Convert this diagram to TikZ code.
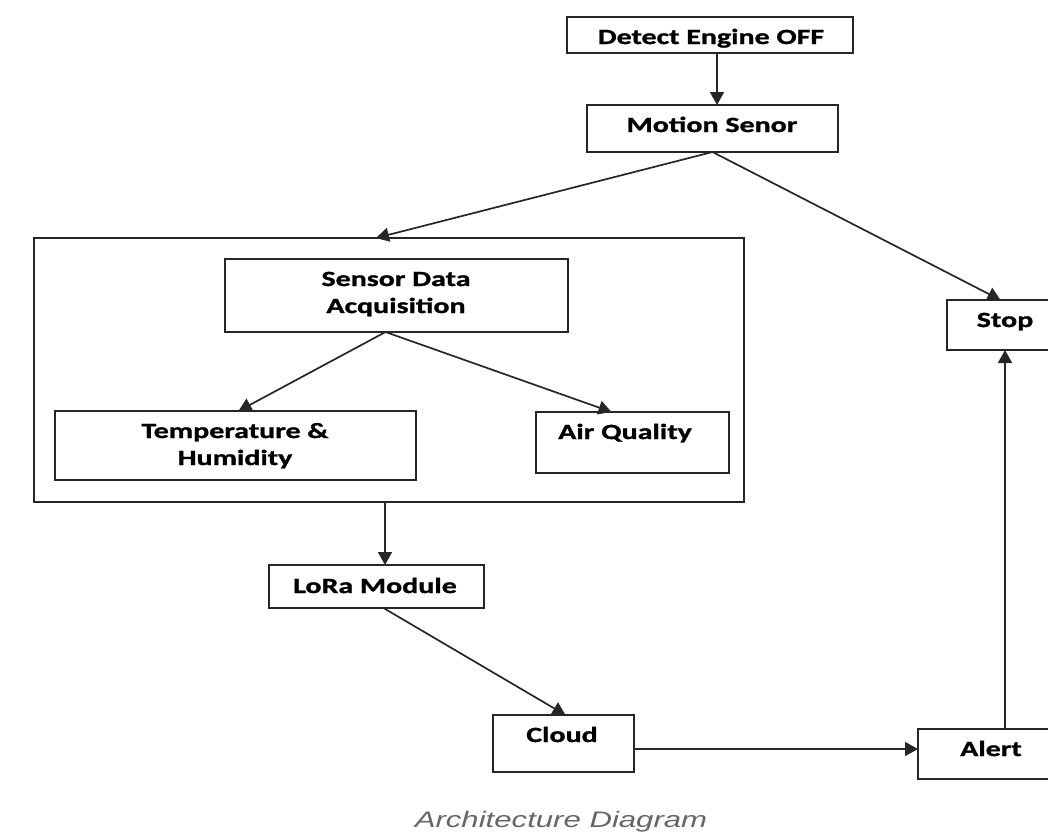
\documentclass[tikz,border=0pt]{standalone}
\usepackage{fontspec}
\setmainfont{Carlito}[FakeStretch=1.38,BoldFeatures={FakeBold=1.3}]
\newfontfamily\capfont{Liberation Sans}[FakeStretch=1.39]
\usetikzlibrary{arrows.meta,calc}
\definecolor{edge}{HTML}{262626}
\definecolor{capgray}{HTML}{666666}
\tikzset{
  boxstyle/.style={draw=edge, line width=2pt, inner sep=0pt, outer sep=0pt, rectangle},
  lbl/.style={anchor=base, inner sep=0pt, font=\fontsize{21.7}{27}\selectfont\bfseries, align=center},
  conn/.style={draw=edge, line width=1.7pt, -{Triangle[length=13pt,width=14pt]}},
}
\newcommand{\mybox}[5]{%
  \node[boxstyle, minimum width={#4-#2}, minimum height={#5-#3}] (#1) at ({(#2+#4)/2},{(#3+#5)/2}) {};}
\begin{document}
\begin{tikzpicture}[x=1pt,y=-1pt]
\useasboundingbox (0,0) rectangle (1048,838);
% boxes
\mybox{detect}{567}{17}{853}{53}
\mybox{motion}{587}{105}{838}{152}
\mybox{cont}{34}{238}{744}{502}
\mybox{sda}{225}{259}{568}{332}
\mybox{temp}{55}{411}{416}{480}
\mybox{air}{536}{412}{729}{473}
\mybox{stop}{947}{300}{1050}{350}
\mybox{lora}{269}{565}{484}{608}
\mybox{cloud}{493}{715}{634}{772}
\mybox{alert}{918}{729}{1050}{779}
% labels
\node[lbl] (tdetect) at (711,44) {Detect Engine OFF};
\node[lbl] (tmotion) at (712,132) {Motion Senor};
\node[lbl] (tsda) at (396,313) {Sensor Data\\Acquisition};
\node[lbl] (ttemp) at (235,465) {Temperature \&\\Humidity};
\node[lbl] (tair) at (625,439) {Air Quality};
\node[lbl] (tstop) at (1005,327) {Stop};
\node[lbl] (tlora) at (375,593) {LoRa Module};
\node[lbl] (tcloud) at (562,742) {Cloud};
\node[lbl] (talert) at (991,756) {Alert};
\node[anchor=base, inner sep=0pt, text=capgray, font=\capfont\itshape\fontsize{22.4}{26}\selectfont] (cap) at (561,827) {Architecture Diagram};
% connectors
\draw[conn] (detect.south -| 717,0) -- (motion.north -| 717,0);
\draw[conn] (motion.south) -- ([xshift=-13pt]cont.north);
\draw[conn] (motion.south) -- ([xshift=2pt]stop.north);
\draw[conn] ([xshift=-11pt]sda.south) -- ([xshift=3pt]temp.north);
\draw[conn] ([xshift=-11pt]sda.south) -- ([xshift=-21pt]air.north);
\draw[conn] (cont.south -| 385,0) -- (lora.north -| 385,0);
\draw[conn] ([xshift=7pt]lora.south) -- ([xshift=2pt]cloud.north);
\draw[conn] (cloud.east |- 0,749) -- (alert.west |- 0,749);
\draw[conn] (alert.north -| 1005,0) -- (stop.south -| 1005,0);
\end{tikzpicture}
\end{document}
